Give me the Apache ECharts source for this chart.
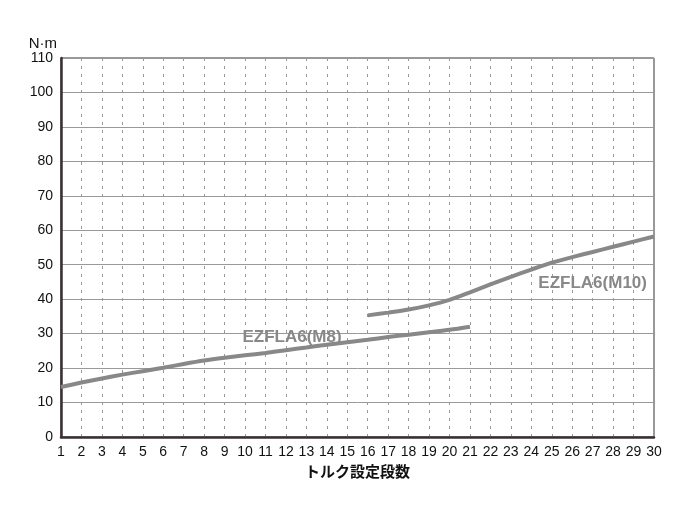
<!DOCTYPE html>
<html>
<head>
<meta charset="utf-8">
<script src="https://cdn.jsdelivr.net/npm/echarts@6/dist/echarts.min.js"></script>
<style>
html, body { margin: 0; padding: 0; background: #fff; }
#main { width: 690px; height: 512px; }
</style>
</head>
<body>
<div id="main"></div>
<script>
// トルク設定段数
var stepsM8 = [1, 2, 3, 4, 5, 6, 7, 8, 9, 10, 11, 12, 13, 14, 15, 16, 17, 18, 19, 20, 21];
var torqueM8 = [14.5, 15.8, 17, 18.1, 19.1, 20.1, 21.2, 22.2, 23, 23.7, 24.4, 25.2, 26, 26.8, 27.5, 28.2, 29, 29.7, 30.4, 31.1, 32];
var stepsM10 = [16, 17, 18, 19, 20, 21, 22, 23, 24, 25, 26, 27, 28, 29, 30];
var torqueM10 = [35.3, 36.1, 37, 38.2, 39.8, 42, 44.3, 46.5, 48.6, 50.6, 52.2, 53.7, 55.2, 56.7, 58.2];
var seriesNames = ['EZFLA6(M8)', 'EZFLA6(M10)'];

function pairs(xs, ys) {
    var arr = [];
    for (var i = 0; i < xs.length; i++) {
        arr.push([xs[i], ys[i]]);
    }
    return arr;
}

var myChart = echarts.init(document.getElementById('main'));

var labelFont = 'Liberation Sans, Arial, sans-serif';

var option = {
    animation: false,
    grid: {
        left: 61, right: 36, top: 58, bottom: 75,
        show: true,
        borderColor: '#3a3030',
        borderWidth: 1
    },
    xAxis: {
        type: 'value',
        min: 1, max: 30, interval: 1,
        name: 'トルク設定段数',
        nameLocation: 'middle',
        nameGap: 22,
        nameTextStyle: { fontFamily: 'Noto Sans CJK JP', fontWeight: 'bold', fontSize: 15, color: '#111' },
        axisLine: { lineStyle: { color: '#3a3030', width: 2.5 } },
        axisTick: { show: false },
        axisLabel: { fontFamily: labelFont, fontSize: 14, color: '#111', margin: 8 },
        splitLine: { show: true, lineStyle: { color: '#999', type: [3, 5], width: 1 } }
    },
    yAxis: {
        type: 'value',
        min: 0, max: 110, interval: 10,
        name: 'N·m',
        nameLocation: 'end',
        nameGap: 5,
        nameTextStyle: { fontFamily: labelFont, fontSize: 15, color: '#111', align: 'right', padding: [0, 4, 0, 0] },
        axisLine: { show: true, lineStyle: { color: '#3a3030', width: 2.5 } },
        axisTick: { show: false },
        axisLabel: { fontFamily: labelFont, fontSize: 14, color: '#111', margin: 8 },
        splitLine: { show: true, lineStyle: { color: '#999', width: 1 } }
    },
    series: [{
        name: seriesNames[0],
        type: 'line',
        smooth: 0.3,
        symbol: 'none',
        lineStyle: { color: '#888', width: 4 },
        data: pairs(stepsM8, torqueM8),
        markPoint: {
            symbol: 'circle', symbolSize: 0,
            label: { show: true, formatter: seriesNames[0], color: '#888', fontWeight: 'bold', fontSize: 17, fontFamily: labelFont },
            data: [{ coord: [12.3, 29] }]
        }
    }, {
        name: seriesNames[1],
        type: 'line',
        smooth: 0.3,
        symbol: 'none',
        lineStyle: { color: '#888', width: 4 },
        data: pairs(stepsM10, torqueM10),
        markPoint: {
            symbol: 'circle', symbolSize: 0,
            label: { show: true, formatter: seriesNames[1], color: '#888', fontWeight: 'bold', fontSize: 17, fontFamily: labelFont },
            data: [{ coord: [27, 44.7] }]
        }
    }]
};

myChart.setOption(option);
</script>
</body>
</html>
